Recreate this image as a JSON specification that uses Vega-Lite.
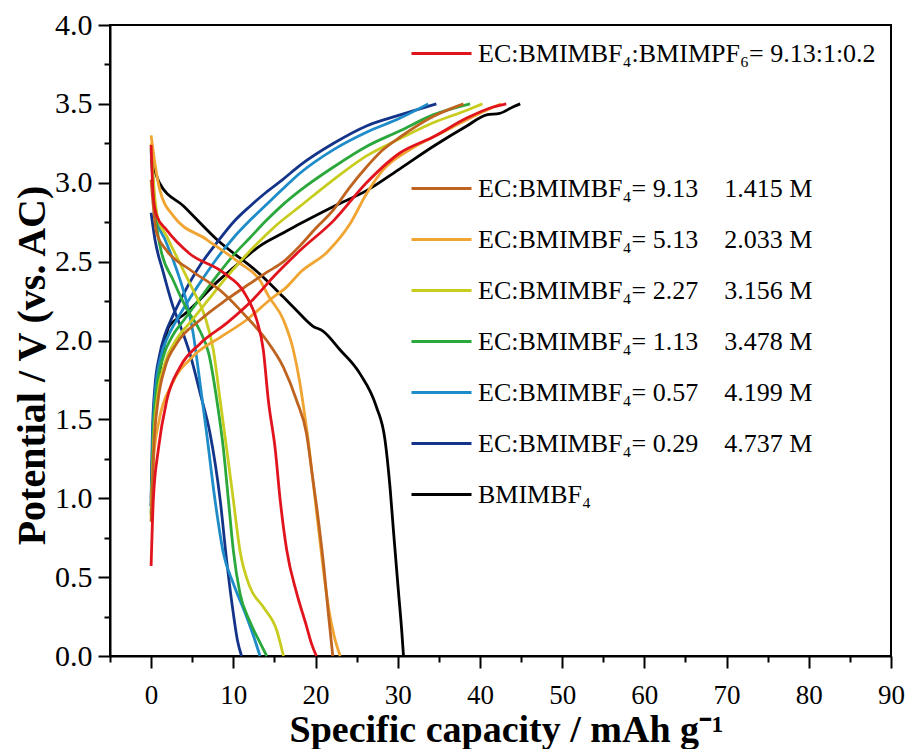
{
  "$schema": "https://vega.github.io/schema/vega-lite/v6.json",
  "width": 781,
  "height": 631,
  "autosize": "none",
  "padding": {"left": 110, "top": 25, "right": 20, "bottom": 93},
  "background": "white",
  "config": {
    "view": {"stroke": "black", "strokeWidth": 2},
    "font": "Liberation Serif"
  },
  "data": {"values": [
    {"s":"IL","g":"c","i":0,"x":0,"y":0.95},{"s":"IL","g":"c","i":1,"x":0.27,"y":1.41},{"s":"IL","g":"c","i":2,"x":0.88,"y":1.73},{"s":"IL","g":"c","i":3,"x":1.49,"y":1.94},{"s":"IL","g":"c","i":4,"x":2.09,"y":2.08},{"s":"IL","g":"c","i":5,"x":2.5,"y":2.11},{"s":"IL","g":"c","i":6,"x":3.9,"y":2.16},{"s":"IL","g":"c","i":7,"x":5.95,"y":2.26},{"s":"IL","g":"c","i":8,"x":8,"y":2.37},{"s":"IL","g":"c","i":9,"x":10,"y":2.46},{"s":"IL","g":"c","i":10,"x":13.25,"y":2.6},{"s":"IL","g":"c","i":11,"x":16,"y":2.68},{"s":"IL","g":"c","i":12,"x":18.1,"y":2.74},{"s":"IL","g":"c","i":13,"x":22.2,"y":2.85},{"s":"IL","g":"c","i":14,"x":26.2,"y":2.95},{"s":"IL","g":"c","i":15,"x":30.3,"y":3.09},{"s":"IL","g":"c","i":16,"x":34.3,"y":3.23},{"s":"IL","g":"c","i":17,"x":38.4,"y":3.36},{"s":"IL","g":"c","i":18,"x":40.8,"y":3.43},{"s":"IL","g":"c","i":19,"x":42.4,"y":3.44},{"s":"IL","g":"c","i":20,"x":44,"y":3.48},{"s":"IL","g":"c","i":21,"x":44.9,"y":3.5},
    {"s":"IL","g":"d","i":0,"x":0,"y":3.16},{"s":"IL","g":"d","i":1,"x":0.5,"y":3.07},{"s":"IL","g":"d","i":2,"x":1.0,"y":3.0},{"s":"IL","g":"d","i":3,"x":4,"y":2.85},{"s":"IL","g":"d","i":4,"x":8,"y":2.64},{"s":"IL","g":"d","i":5,"x":13.25,"y":2.42},{"s":"IL","g":"d","i":6,"x":16,"y":2.28},{"s":"IL","g":"d","i":7,"x":17.7,"y":2.19},{"s":"IL","g":"d","i":8,"x":19.7,"y":2.09},{"s":"IL","g":"d","i":9,"x":20.9,"y":2.06},{"s":"IL","g":"d","i":10,"x":23.0,"y":1.94},{"s":"IL","g":"d","i":11,"x":25.4,"y":1.79},{"s":"IL","g":"d","i":12,"x":27.4,"y":1.58},{"s":"IL","g":"d","i":13,"x":28.45,"y":1.37},{"s":"IL","g":"d","i":14,"x":29.06,"y":1.07},{"s":"IL","g":"d","i":15,"x":29.5,"y":0.78},{"s":"IL","g":"d","i":16,"x":30.1,"y":0.4},{"s":"IL","g":"d","i":17,"x":30.5,"y":0.15},{"s":"IL","g":"d","i":18,"x":30.7,"y":0},
    {"s":"0.29","g":"c","i":0,"x":0,"y":1.0},{"s":"0.29","g":"c","i":1,"x":0.15,"y":1.4},{"s":"0.29","g":"c","i":2,"x":0.45,"y":1.7},{"s":"0.29","g":"c","i":3,"x":1.0,"y":1.9},{"s":"0.29","g":"c","i":4,"x":1.7,"y":2.04},{"s":"0.29","g":"c","i":5,"x":2.5,"y":2.14},{"s":"0.29","g":"c","i":6,"x":4,"y":2.3},{"s":"0.29","g":"c","i":7,"x":6,"y":2.48},{"s":"0.29","g":"c","i":8,"x":8,"y":2.62},{"s":"0.29","g":"c","i":9,"x":10,"y":2.75},{"s":"0.29","g":"c","i":10,"x":12,"y":2.85},{"s":"0.29","g":"c","i":11,"x":14,"y":2.94},{"s":"0.29","g":"c","i":12,"x":16,"y":3.02},{"s":"0.29","g":"c","i":13,"x":18.1,"y":3.11},{"s":"0.29","g":"c","i":14,"x":22.2,"y":3.25},{"s":"0.29","g":"c","i":15,"x":26.2,"y":3.36},{"s":"0.29","g":"c","i":16,"x":30.3,"y":3.43},{"s":"0.29","g":"c","i":17,"x":34.7,"y":3.5},
    {"s":"0.29","g":"d","i":0,"x":0,"y":2.81},{"s":"0.29","g":"d","i":1,"x":0.47,"y":2.64},{"s":"0.29","g":"d","i":2,"x":1.49,"y":2.43},{"s":"0.29","g":"d","i":3,"x":2.7,"y":2.21},{"s":"0.29","g":"d","i":4,"x":3.5,"y":2.1},{"s":"0.29","g":"d","i":5,"x":4.7,"y":1.92},{"s":"0.29","g":"d","i":6,"x":5.95,"y":1.67},{"s":"0.29","g":"d","i":7,"x":7.17,"y":1.41},{"s":"0.29","g":"d","i":8,"x":8.4,"y":0.99},{"s":"0.29","g":"d","i":9,"x":9.2,"y":0.6},{"s":"0.29","g":"d","i":10,"x":10.0,"y":0.27},{"s":"0.29","g":"d","i":11,"x":10.5,"y":0.1},{"s":"0.29","g":"d","i":12,"x":11.0,"y":0},
    {"s":"0.57","g":"c","i":0,"x":0,"y":0.95},{"s":"0.57","g":"c","i":1,"x":0.2,"y":1.4},{"s":"0.57","g":"c","i":2,"x":0.55,"y":1.7},{"s":"0.57","g":"c","i":3,"x":1.2,"y":1.9},{"s":"0.57","g":"c","i":4,"x":2,"y":2.02},{"s":"0.57","g":"c","i":5,"x":3,"y":2.12},{"s":"0.57","g":"c","i":6,"x":4.5,"y":2.25},{"s":"0.57","g":"c","i":7,"x":6,"y":2.37},{"s":"0.57","g":"c","i":8,"x":8,"y":2.52},{"s":"0.57","g":"c","i":9,"x":10,"y":2.65},{"s":"0.57","g":"c","i":10,"x":12,"y":2.76},{"s":"0.57","g":"c","i":11,"x":14,"y":2.86},{"s":"0.57","g":"c","i":12,"x":16,"y":2.96},{"s":"0.57","g":"c","i":13,"x":18.1,"y":3.06},{"s":"0.57","g":"c","i":14,"x":22.2,"y":3.21},{"s":"0.57","g":"c","i":15,"x":26.2,"y":3.32},{"s":"0.57","g":"c","i":16,"x":30.3,"y":3.41},{"s":"0.57","g":"c","i":17,"x":33.7,"y":3.5},
    {"s":"0.57","g":"d","i":0,"x":0,"y":3.2},{"s":"0.57","g":"d","i":1,"x":0.3,"y":2.95},{"s":"0.57","g":"d","i":2,"x":0.8,"y":2.75},{"s":"0.57","g":"d","i":3,"x":1.69,"y":2.64},{"s":"0.57","g":"d","i":4,"x":3.1,"y":2.45},{"s":"0.57","g":"d","i":5,"x":4.33,"y":2.24},{"s":"0.57","g":"d","i":6,"x":5.1,"y":2.05},{"s":"0.57","g":"d","i":7,"x":5.95,"y":1.73},{"s":"0.57","g":"d","i":8,"x":6.76,"y":1.41},{"s":"0.57","g":"d","i":9,"x":7.77,"y":0.99},{"s":"0.57","g":"d","i":10,"x":8.8,"y":0.65},{"s":"0.57","g":"d","i":11,"x":10.0,"y":0.46},{"s":"0.57","g":"d","i":12,"x":11.6,"y":0.25},{"s":"0.57","g":"d","i":13,"x":12.5,"y":0.12},{"s":"0.57","g":"d","i":14,"x":13.25,"y":0},
    {"s":"1.13","g":"c","i":0,"x":0,"y":0.9},{"s":"1.13","g":"c","i":1,"x":0.25,"y":1.4},{"s":"1.13","g":"c","i":2,"x":0.7,"y":1.7},{"s":"1.13","g":"c","i":3,"x":1.5,"y":1.9},{"s":"1.13","g":"c","i":4,"x":2.5,"y":2.02},{"s":"1.13","g":"c","i":5,"x":4,"y":2.13},{"s":"1.13","g":"c","i":6,"x":6,"y":2.27},{"s":"1.13","g":"c","i":7,"x":8,"y":2.41},{"s":"1.13","g":"c","i":8,"x":10,"y":2.54},{"s":"1.13","g":"c","i":9,"x":12,"y":2.65},{"s":"1.13","g":"c","i":10,"x":14,"y":2.76},{"s":"1.13","g":"c","i":11,"x":16,"y":2.86},{"s":"1.13","g":"c","i":12,"x":18.1,"y":2.95},{"s":"1.13","g":"c","i":13,"x":22.2,"y":3.1},{"s":"1.13","g":"c","i":14,"x":26.2,"y":3.23},{"s":"1.13","g":"c","i":15,"x":30.3,"y":3.33},{"s":"1.13","g":"c","i":16,"x":34.3,"y":3.43},{"s":"1.13","g":"c","i":17,"x":38.8,"y":3.5},
    {"s":"1.13","g":"d","i":0,"x":0,"y":3.22},{"s":"1.13","g":"d","i":1,"x":0.3,"y":2.95},{"s":"1.13","g":"d","i":2,"x":0.7,"y":2.72},{"s":"1.13","g":"d","i":3,"x":1.08,"y":2.6},{"s":"1.13","g":"d","i":4,"x":2.7,"y":2.38},{"s":"1.13","g":"d","i":5,"x":4.33,"y":2.2},{"s":"1.13","g":"d","i":6,"x":5.95,"y":2.06},{"s":"1.13","g":"d","i":7,"x":7.0,"y":1.92},{"s":"1.13","g":"d","i":8,"x":8.0,"y":1.62},{"s":"1.13","g":"d","i":9,"x":8.8,"y":1.31},{"s":"1.13","g":"d","i":10,"x":9.4,"y":0.99},{"s":"1.13","g":"d","i":11,"x":10.0,"y":0.67},{"s":"1.13","g":"d","i":12,"x":10.8,"y":0.4},{"s":"1.13","g":"d","i":13,"x":12.0,"y":0.22},{"s":"1.13","g":"d","i":14,"x":13.2,"y":0.09},{"s":"1.13","g":"d","i":15,"x":14.06,"y":0},
    {"s":"2.27","g":"c","i":0,"x":0,"y":0.88},{"s":"2.27","g":"c","i":1,"x":0.3,"y":1.35},{"s":"2.27","g":"c","i":2,"x":0.8,"y":1.65},{"s":"2.27","g":"c","i":3,"x":1.7,"y":1.86},{"s":"2.27","g":"c","i":4,"x":3,"y":2.0},{"s":"2.27","g":"c","i":5,"x":5,"y":2.13},{"s":"2.27","g":"c","i":6,"x":7,"y":2.26},{"s":"2.27","g":"c","i":7,"x":9,"y":2.39},{"s":"2.27","g":"c","i":8,"x":11,"y":2.51},{"s":"2.27","g":"c","i":9,"x":13,"y":2.62},{"s":"2.27","g":"c","i":10,"x":15,"y":2.72},{"s":"2.27","g":"c","i":11,"x":18.1,"y":2.85},{"s":"2.27","g":"c","i":12,"x":22.2,"y":3.02},{"s":"2.27","g":"c","i":13,"x":26.2,"y":3.17},{"s":"2.27","g":"c","i":14,"x":30.3,"y":3.28},{"s":"2.27","g":"c","i":15,"x":34.3,"y":3.38},{"s":"2.27","g":"c","i":16,"x":38.4,"y":3.46},{"s":"2.27","g":"c","i":17,"x":40.3,"y":3.5},
    {"s":"2.27","g":"d","i":0,"x":0,"y":3.25},{"s":"2.27","g":"d","i":1,"x":0.3,"y":3.0},{"s":"2.27","g":"d","i":2,"x":0.8,"y":2.78},{"s":"2.27","g":"d","i":3,"x":1.9,"y":2.66},{"s":"2.27","g":"d","i":4,"x":3.5,"y":2.49},{"s":"2.27","g":"d","i":5,"x":5.1,"y":2.32},{"s":"2.27","g":"d","i":6,"x":6.56,"y":2.15},{"s":"2.27","g":"d","i":7,"x":7.57,"y":1.94},{"s":"2.27","g":"d","i":8,"x":8.4,"y":1.62},{"s":"2.27","g":"d","i":9,"x":9.2,"y":1.31},{"s":"2.27","g":"d","i":10,"x":10.0,"y":0.99},{"s":"2.27","g":"d","i":11,"x":10.8,"y":0.67},{"s":"2.27","g":"d","i":12,"x":12.0,"y":0.44},{"s":"2.27","g":"d","i":13,"x":13.65,"y":0.31},{"s":"2.27","g":"d","i":14,"x":15.3,"y":0.16},{"s":"2.27","g":"d","i":15,"x":16.1,"y":0},
    {"s":"5.13","g":"c","i":0,"x":0,"y":0.9},{"s":"5.13","g":"c","i":1,"x":0.3,"y":1.25},{"s":"5.13","g":"c","i":2,"x":1,"y":1.5},{"s":"5.13","g":"c","i":3,"x":2.5,"y":1.72},{"s":"5.13","g":"c","i":4,"x":5.1,"y":1.9},{"s":"5.13","g":"c","i":5,"x":8.4,"y":2.02},{"s":"5.13","g":"c","i":6,"x":11.6,"y":2.13},{"s":"5.13","g":"c","i":7,"x":14.5,"y":2.26},{"s":"5.13","g":"c","i":8,"x":16.5,"y":2.34},{"s":"5.13","g":"c","i":9,"x":18.1,"y":2.43},{"s":"5.13","g":"c","i":10,"x":21.4,"y":2.56},{"s":"5.13","g":"c","i":11,"x":24.2,"y":2.74},{"s":"5.13","g":"c","i":12,"x":26.2,"y":2.93},{"s":"5.13","g":"c","i":13,"x":28.2,"y":3.08},{"s":"5.13","g":"c","i":14,"x":31.5,"y":3.21},{"s":"5.13","g":"c","i":15,"x":35.1,"y":3.31},{"s":"5.13","g":"c","i":16,"x":38.4,"y":3.4},{"s":"5.13","g":"c","i":17,"x":40.8,"y":3.46},{"s":"5.13","g":"c","i":18,"x":42.6,"y":3.5},
    {"s":"5.13","g":"d","i":0,"x":0,"y":3.3},{"s":"5.13","g":"d","i":1,"x":0.47,"y":3.12},{"s":"5.13","g":"d","i":2,"x":1.08,"y":2.95},{"s":"5.13","g":"d","i":3,"x":2.7,"y":2.79},{"s":"5.13","g":"d","i":4,"x":6.76,"y":2.64},{"s":"5.13","g":"d","i":5,"x":10.8,"y":2.49},{"s":"5.13","g":"d","i":6,"x":13.25,"y":2.38},{"s":"5.13","g":"d","i":7,"x":14.3,"y":2.28},{"s":"5.13","g":"d","i":8,"x":16.1,"y":2.13},{"s":"5.13","g":"d","i":9,"x":17.3,"y":1.94},{"s":"5.13","g":"d","i":10,"x":18.1,"y":1.73},{"s":"5.13","g":"d","i":11,"x":18.7,"y":1.52},{"s":"5.13","g":"d","i":12,"x":19.1,"y":1.37},{"s":"5.13","g":"d","i":13,"x":19.6,"y":1.15},{"s":"5.13","g":"d","i":14,"x":20.2,"y":0.88},{"s":"5.13","g":"d","i":15,"x":20.9,"y":0.57},{"s":"5.13","g":"d","i":16,"x":21.6,"y":0.3},{"s":"5.13","g":"d","i":17,"x":22.3,"y":0.12},{"s":"5.13","g":"d","i":18,"x":23.0,"y":0},
    {"s":"9.13","g":"c","i":0,"x":0,"y":0.85},{"s":"9.13","g":"c","i":1,"x":0.3,"y":1.3},{"s":"9.13","g":"c","i":2,"x":0.8,"y":1.6},{"s":"9.13","g":"c","i":3,"x":1.7,"y":1.83},{"s":"9.13","g":"c","i":4,"x":3.1,"y":1.98},{"s":"9.13","g":"c","i":5,"x":5.95,"y":2.13},{"s":"9.13","g":"c","i":6,"x":9.2,"y":2.26},{"s":"9.13","g":"c","i":7,"x":12,"y":2.36},{"s":"9.13","g":"c","i":8,"x":14,"y":2.43},{"s":"9.13","g":"c","i":9,"x":16.1,"y":2.5},{"s":"9.13","g":"c","i":10,"x":18.1,"y":2.6},{"s":"9.13","g":"c","i":11,"x":20,"y":2.71},{"s":"9.13","g":"c","i":12,"x":22.2,"y":2.83},{"s":"9.13","g":"c","i":13,"x":24,"y":2.96},{"s":"9.13","g":"c","i":14,"x":26.2,"y":3.1},{"s":"9.13","g":"c","i":15,"x":28,"y":3.2},{"s":"9.13","g":"c","i":16,"x":30.3,"y":3.29},{"s":"9.13","g":"c","i":17,"x":34.3,"y":3.42},{"s":"9.13","g":"c","i":18,"x":38.0,"y":3.5},
    {"s":"9.13","g":"d","i":0,"x":0,"y":3.02},{"s":"9.13","g":"d","i":1,"x":0.27,"y":2.85},{"s":"9.13","g":"d","i":2,"x":0.68,"y":2.68},{"s":"9.13","g":"d","i":3,"x":1.9,"y":2.57},{"s":"9.13","g":"d","i":4,"x":4.7,"y":2.45},{"s":"9.13","g":"d","i":5,"x":8.8,"y":2.3},{"s":"9.13","g":"d","i":6,"x":11.6,"y":2.15},{"s":"9.13","g":"d","i":7,"x":14.06,"y":2.0},{"s":"9.13","g":"d","i":8,"x":16.1,"y":1.83},{"s":"9.13","g":"d","i":9,"x":17.7,"y":1.62},{"s":"9.13","g":"d","i":10,"x":18.9,"y":1.41},{"s":"9.13","g":"d","i":11,"x":19.6,"y":1.15},{"s":"9.13","g":"d","i":12,"x":20.3,"y":0.88},{"s":"9.13","g":"d","i":13,"x":21.0,"y":0.57},{"s":"9.13","g":"d","i":14,"x":21.6,"y":0.25},{"s":"9.13","g":"d","i":15,"x":21.9,"y":0.1},{"s":"9.13","g":"d","i":16,"x":22.1,"y":0},
    {"s":"PF6","g":"c","i":0,"x":0,"y":0.57},{"s":"PF6","g":"c","i":1,"x":0.27,"y":0.99},{"s":"PF6","g":"c","i":2,"x":0.88,"y":1.31},{"s":"PF6","g":"c","i":3,"x":1.9,"y":1.62},{"s":"PF6","g":"c","i":4,"x":3.5,"y":1.83},{"s":"PF6","g":"c","i":5,"x":5.95,"y":1.98},{"s":"PF6","g":"c","i":6,"x":9.2,"y":2.11},{"s":"PF6","g":"c","i":7,"x":12.4,"y":2.26},{"s":"PF6","g":"c","i":8,"x":15,"y":2.41},{"s":"PF6","g":"c","i":9,"x":18.1,"y":2.57},{"s":"PF6","g":"c","i":10,"x":22.2,"y":2.76},{"s":"PF6","g":"c","i":11,"x":26.2,"y":3.0},{"s":"PF6","g":"c","i":12,"x":30.3,"y":3.19},{"s":"PF6","g":"c","i":13,"x":34.3,"y":3.29},{"s":"PF6","g":"c","i":14,"x":38.4,"y":3.41},{"s":"PF6","g":"c","i":15,"x":41.6,"y":3.48},{"s":"PF6","g":"c","i":16,"x":43.2,"y":3.5},
    {"s":"PF6","g":"d","i":0,"x":0,"y":3.24},{"s":"PF6","g":"d","i":1,"x":0.27,"y":2.91},{"s":"PF6","g":"d","i":2,"x":0.68,"y":2.79},{"s":"PF6","g":"d","i":3,"x":1.9,"y":2.7},{"s":"PF6","g":"d","i":4,"x":4.7,"y":2.55},{"s":"PF6","g":"d","i":5,"x":8.8,"y":2.43},{"s":"PF6","g":"d","i":6,"x":11.6,"y":2.28},{"s":"PF6","g":"d","i":7,"x":12.85,"y":2.13},{"s":"PF6","g":"d","i":8,"x":13.65,"y":1.94},{"s":"PF6","g":"d","i":9,"x":14.26,"y":1.62},{"s":"PF6","g":"d","i":10,"x":15.1,"y":1.31},{"s":"PF6","g":"d","i":11,"x":15.7,"y":0.99},{"s":"PF6","g":"d","i":12,"x":16.5,"y":0.67},{"s":"PF6","g":"d","i":13,"x":17.7,"y":0.4},{"s":"PF6","g":"d","i":14,"x":18.9,"y":0.19},{"s":"PF6","g":"d","i":15,"x":19.5,"y":0.08},{"s":"PF6","g":"d","i":16,"x":20.1,"y":0}
  ]},
  "encoding": {
    "x": {
      "field": "x", "type": "quantitative",
      "scale": {"domain": [-5, 90], "nice": false, "zero": false},
      "axis": {
        "title": "Specific capacity / mAh g⁻¹",
        "values": [-5,0,5,10,15,20,25,30,35,40,45,50,55,60,65,70,75,80,85,90],
        "labelExpr": "datum.value % 10 === 0 ? datum.label : ''",
        "tickSize": {"condition": {"test": "datum.value % 10 === 0", "value": 12}, "value": 6},
        "grid": false,
        "domainColor": "black", "domainWidth": 2,
        "tickColor": "black", "tickWidth": 2,
        "labelFont": "Liberation Serif", "labelFontSize": 27, "labelColor": "black",
        "labelPadding": 14, "labelFlush": false, "labelOverlap": false,
        "titleFont": "Liberation Serif", "titleFontSize": 38, "titleFontWeight": "bold", "titleColor": "black",
        "titleBaseline": "alphabetic", "titleY": 85, "titleX": 396
      }
    },
    "y": {
      "field": "y", "type": "quantitative",
      "scale": {"domain": [0, 4], "nice": false},
      "axis": {
        "title": "Potential / V (vs. AC)",
        "values": [0,0.25,0.5,0.75,1,1.25,1.5,1.75,2,2.25,2.5,2.75,3,3.25,3.5,3.75,4],
        "labelExpr": "datum.value % 0.5 === 0 ? format(datum.value, '.1f') : ''",
        "tickSize": {"condition": {"test": "datum.value % 0.5 === 0", "value": 12}, "value": 6},
        "grid": false,
        "domainColor": "black", "domainWidth": 2,
        "tickColor": "black", "tickWidth": 2,
        "labelFont": "Liberation Serif", "labelFontSize": 30, "labelColor": "black",
        "labelPadding": 6, "labelFlush": false, "labelOverlap": false,
        "titleFont": "Liberation Serif", "titleFontSize": 40, "titleFontWeight": "bold", "titleColor": "black",
        "titlePadding": 2, "titleY": 340
      }
    },
    "order": {"field": "i", "type": "quantitative"},
    "detail": {"field": "g", "type": "nominal"}
  },
  "layer": [
    {
      "transform": [{"filter": "datum.s != 'PF6'"}],
      "mark": {"type": "line", "strokeWidth": 2.8, "interpolate": "monotone"},
      "encoding": {
        "color": {
          "field": "s", "type": "nominal",
          "scale": {
            "domain": ["9.13", "5.13", "2.27", "1.13", "0.57", "0.29", "IL"],
            "range": ["#bf6420", "#f0a532", "#c8cc1e", "#2aa83c", "#1e8cc8", "#14348a", "#000000"]
          },
          "legend": {
            "orient": "none", "legendX": 300, "legendY": 132,
            "title": null, "padding": 0,
            "symbolType": "stroke", "symbolSize": 3600, "symbolStrokeWidth": 3,
            "labelFont": "Liberation Serif", "labelFontSize": 26, "labelColor": "black",
            "labelOffset": 5, "labelLimit": 0, "rowPadding": 6,
            "labelExpr": "{'9.13': 'EC:BMIMBF₄= 9.13\u00a0\u00a0\u00a0\u00a01.415 M', '5.13': 'EC:BMIMBF₄= 5.13\u00a0\u00a0\u00a0\u00a02.033 M', '2.27': 'EC:BMIMBF₄= 2.27\u00a0\u00a0\u00a0\u00a03.156 M', '1.13': 'EC:BMIMBF₄= 1.13\u00a0\u00a0\u00a0\u00a03.478 M', '0.57': 'EC:BMIMBF₄= 0.57\u00a0\u00a0\u00a0\u00a04.199 M', '0.29': 'EC:BMIMBF₄= 0.29\u00a0\u00a0\u00a0\u00a04.737 M', 'IL': 'BMIMBF₄'}[datum.label]"
          }
        }
      }
    },
    {
      "transform": [{"filter": "datum.s == 'PF6'"}],
      "mark": {"type": "line", "strokeWidth": 2.8, "interpolate": "monotone"},
      "encoding": {
        "stroke": {
          "field": "s", "type": "nominal",
          "scale": {"domain": ["PF6"], "range": ["#e1141e"]},
          "legend": {
            "orient": "none", "legendX": 300, "legendY": -3,
            "title": null, "padding": 0,
            "symbolType": "stroke", "symbolSize": 3600, "symbolStrokeWidth": 3,
            "labelFont": "Liberation Serif", "labelFontSize": 26, "labelColor": "black",
            "labelOffset": 5, "labelLimit": 0,
            "labelExpr": "'EC:BMIMBF₄:BMIMPF₆= 9.13:1:0.2'"
          }
        }
      }
    }
  ]
}
